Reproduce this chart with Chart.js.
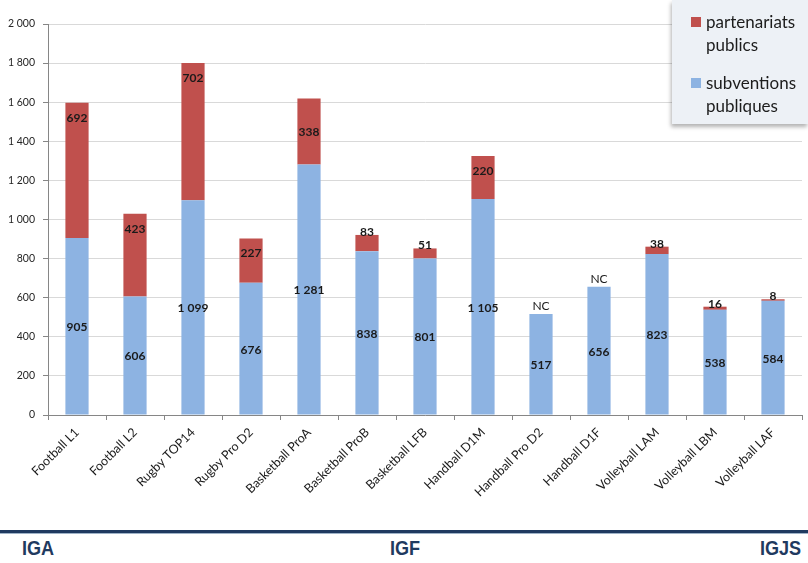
<!DOCTYPE html>
<html>
<head>
<meta charset="utf-8">
<script src="https://cdn.jsdelivr.net/npm/chart.js@4/dist/chart.umd.min.js"></script>
<style>
  html, body { margin: 0; padding: 0; background: #ffffff; }
  body { width: 808px; height: 563px; position: relative; overflow: hidden; font-family: Lato, "Open Sans", sans-serif; }
  #wrap { position: absolute; left: 0; top: 0; width: 808px; height: 500px; }
  #legend { position: absolute; left: 672px; top: 0; width: 136px; height: 124px; background: #edf1f6;
            box-shadow: -1px 3px 4px rgba(0,0,0,0.30); }
  .li { position: absolute; left: 20px; font-size: 17px; line-height: 23px; color: #1c1c1c; }
  .sw { position: absolute; width: 10px; height: 10px; left: -1px; }
  .li span { display: block; padding-left: 14px; }
  #rule1 { position: absolute; left: 0; top: 530px; width: 808px; height: 3px; background: #1f3a60; }
  #rule2 { position: absolute; left: 0; top: 533px; width: 808px; height: 1px; background: #9fb3c8; }
  .foot { position: absolute; top: 535px; font-family: "Liberation Sans", Arial, sans-serif;
          font-weight: bold; font-size: 21px; line-height: 26px; color: #1f3a60;
          transform: scaleX(0.86); transform-origin: 0 0; }
</style>
</head>
<body>
<div id="wrap"><canvas id="c"></canvas></div>
<div id="legend">
  <div class="li" style="top:10px"><div class="sw" style="top:7px;background:#c0504d"></div><span>partenariats</span><span>publics</span></div>
  <div class="li" style="top:71px"><div class="sw" style="top:7px;background:#8db3e2"></div><span>subventions</span><span>publiques</span></div>
</div>
<div id="rule1"></div><div id="rule2"></div>
<div class="foot" style="left:22px">IGA</div>
<div class="foot" style="left:390px">IGF</div>
<div class="foot" style="left:760px">IGJS</div>
<script>
const categories = ['Football L1','Football L2','Rugby TOP14','Rugby Pro D2','Basketball ProA','Basketball ProB','Basketball LFB','Handball D1M','Handball Pro D2','Handball D1F','Volleyball LAM','Volleyball LBM','Volleyball LAF'];
const subventionsPubliques = [905, 606, 1099, 676, 1281, 838, 801, 1105, 517, 656, 823, 538, 584];
const partenariatsPublics = [692, 423, 702, 227, 338, 83, 51, 220, null, null, 38, 16, 8];
const yTickValues = [0, 200, 400, 600, 800, 1000, 1200, 1400, 1600, 1800, 2000];
const yTickLabels = ['0', '200', '400', '600', '800', '1 000', '1 200', '1 400', '1 600', '1 800', '2 000'];
const missingLabel = 'NC';

function fmt(v) { return String(v).replace(/\B(?=(\d{3})+(?!\d))/g, ' '); }

const valueLabels = {
  id: 'valueLabels',
  afterDatasetsDraw(chart, args, opts) {
    const ctx = chart.ctx;
    const blue = chart.getDatasetMeta(0).data;
    const red = chart.getDatasetMeta(1).data;
    ctx.save();
    ctx.fillStyle = '#1a1a1a';
    ctx.textAlign = 'center';
    ctx.font = 'bold 12px Lato, "Open Sans", sans-serif';
    blue.forEach((bar, i) => {
      const v = subventionsPubliques[i];
      const top = bar.y, base = bar.base;
      ctx.textBaseline = 'middle';
      ctx.fillText(fmt(v), bar.x, (top + base) / 2 + 1);
      const r = partenariatsPublics[i];
      if (r === null || r === undefined) {
        ctx.font = '12px Lato, "Open Sans", sans-serif';
        ctx.textBaseline = 'alphabetic';
        ctx.fillText(missingLabel, bar.x, top - 4);
        ctx.font = 'bold 12px Lato, "Open Sans", sans-serif';
        return;
      }
      const rb = red[i];
      const h = rb.base - rb.y;
      if (h < 20) {
        ctx.textBaseline = 'alphabetic';
        ctx.fillText(fmt(r), rb.x, rb.y + 1);
      } else if (opts.centered.includes(categories[i])) {
        ctx.textBaseline = 'middle';
        ctx.fillText(fmt(r), rb.x, (rb.y + rb.base) / 2 + 1);
      } else {
        ctx.textBaseline = 'middle';
        ctx.fillText(fmt(r), rb.x, rb.y + 15);
      }
    });
    ctx.restore();
  }
};

new Chart(document.getElementById('c'), {
  type: 'bar',
  data: {
    labels: categories,
    datasets: [
      { label: 'subventions publiques', data: subventionsPubliques, backgroundColor: '#8db3e2', borderWidth: 0,
        barPercentage: 0.4, categoryPercentage: 1.0 },
      { label: 'partenariats publics', data: partenariatsPublics, backgroundColor: '#c0504d', borderWidth: 0,
        barPercentage: 0.4, categoryPercentage: 1.0 }
    ]
  },
  options: {
    responsive: true,
    maintainAspectRatio: false,
    animation: false,
    layout: { padding: { top: 24, right: 6, left: 0, bottom: 0 } },
    plugins: {
      legend: { display: false },
      tooltip: { enabled: false },
      valueLabels: { centered: ['Basketball ProA'] }
    },
    scales: {
      x: {
        stacked: true,
        grid: { display: true, drawOnChartArea: false, drawTicks: true, tickLength: 5, tickColor: '#868686', offset: true },
        border: { color: '#868686', width: 1 },
        ticks: { minRotation: 45, maxRotation: 45, autoSkip: false, padding: 5, color: '#1c1c1c',
                 font: { family: 'Lato, "Open Sans", sans-serif', size: 12.5 } },
        afterFit(scale) { scale.height = 85; }
      },
      y: {
        stacked: true,
        min: 0, max: 2000,
        afterBuildTicks(scale) { scale.ticks = yTickValues.map(v => ({ value: v })); },
        grid: { color: '#d9d9d9', lineWidth: 1, tickLength: 5, tickColor: '#868686', drawTicks: true },
        border: { color: '#868686', width: 1 },
        ticks: {
          padding: 8, color: '#262626',
          font: { family: 'Lato, "Open Sans", sans-serif', size: 10.5 },
          callback: (v) => { const k = yTickValues.indexOf(v); return k >= 0 ? yTickLabels[k] : ''; }
        },
        afterFit(scale) { scale.width = 48; }
      }
    }
  },
  plugins: [valueLabels]
});
</script>
</body>
</html>
